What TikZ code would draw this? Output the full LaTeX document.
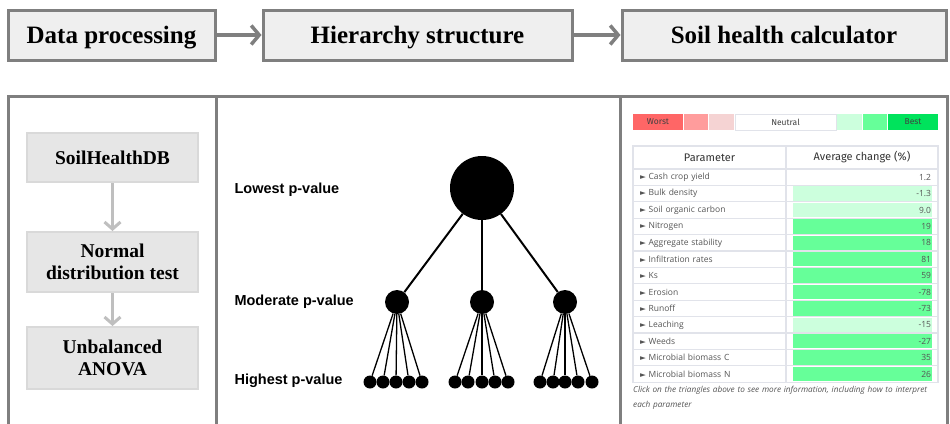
\documentclass[tikz,border=0pt]{standalone}
\usepackage{fontspec}
\setmainfont{Liberation Serif}
\setsansfont{Liberation Sans}
\newfontfamily\tblfont{Open Sans}
\newfontfamily\headfont{Fira Sans}
\newfontfamily\symfont{DejaVu Sans}
\usetikzlibrary{arrows.meta}

\definecolor{framegray}{HTML}{7F7F7F}
\definecolor{hdrfill}{HTML}{EFEFEF}
\definecolor{stepfill}{HTML}{E6E6E6}
\definecolor{stepline}{HTML}{D9D9D9}
\definecolor{steparrow}{HTML}{BFBFBF}
\definecolor{tblline}{HTML}{E1E3EA}
\definecolor{tbltext}{HTML}{555555}
\definecolor{worst}{HTML}{FF6666}
\definecolor{bad}{HTML}{FF9C9C}
\definecolor{slightbad}{HTML}{F5D3D3}
\definecolor{slightgood}{HTML}{CCFFDD}
\definecolor{good}{HTML}{66FF99}
\definecolor{best}{HTML}{00E35C}

\tikzset{
  hdrbox/.style={draw=framegray,fill=hdrfill,line width=3pt,minimum height=50pt,
    text depth=1pt,font=\fontsize{25}{28}\selectfont\bfseries},
  flowbox/.style={draw=stepline,fill=stepfill,line width=2pt,minimum width=171pt,
    align=center,font=\fontsize{19.5}{22}\selectfont\bfseries},
  levellabel/.style={anchor=west,font=\sffamily\bfseries\fontsize{14.5}{16}\selectfont},
  parcell/.style={draw=tblline,line width=1.2pt,minimum height=16.4pt,text width=139pt,
    inner xsep=7pt,inner ysep=0pt,align=left,text=tbltext,font=\tblfont\fontsize{8.5}{9}\selectfont},
  valcell/.style={draw=tblline,line width=1.2pt,minimum height=16.4pt,text width=138pt,
    inner xsep=7pt,inner ysep=0pt,align=right,text=tbltext,font=\tblfont\fontsize{8.5}{9}\selectfont},
  shade/.style={path picture={\fill[#1]
    ([xshift=7pt,yshift=1pt]path picture bounding box.south west) rectangle
    ([xshift=-6pt,yshift=-1pt]path picture bounding box.north east);}}
}

\newcommand{\tri}{{\symfont\fontsize{7.5}{8}\selectfont ►}\ }

\begin{document}
\begin{tikzpicture}[x=1pt,y=-1pt]

  \fill[white] (0,0) rectangle (950,423);
  \useasboundingbox (0,0) rectangle (950,423);

  \node[hdrbox,minimum width=207pt] (dataproc) at (111.5,35) {Data processing};
  \node[hdrbox,minimum width=309pt] (hierarchy) at (417.5,35) {Hierarchy structure};
  \node[hdrbox,minimum width=324pt] (calculator) at (784,35) {Soil health calculator};

  \begin{scope}[draw=framegray,line width=3.5pt,-{Straight Barb[length=8pt,width=19pt]}]
    \draw (dataproc) -- (hierarchy);
    \draw (hierarchy) -- (calculator);
  \end{scope}

  \draw[framegray,line width=3pt] (8,96) rectangle (947,440);
  \draw[framegray,line width=3pt] (216,96) -- (216,440);
  \draw[framegray,line width=3pt] (620,96) -- (620,440);

  \node[flowbox,minimum height=49pt] (shdb) at (112.5,157.5) {SoilHealthDB};
  \node[flowbox,minimum height=60pt] (normtest) at (112.5,262) {Normal\\distribution test};
  \node[flowbox,minimum height=62pt] (anova) at (112.5,358) {Unbalanced\\ANOVA};

  \begin{scope}[draw=steparrow,line width=3pt,-{Straight Barb[length=7pt,width=16pt]}]
    \draw (shdb) -- (normtest);
    \draw (normtest) -- (anova);
  \end{scope}

  \node[levellabel] (lowlab) at (231,190) {Lowest p-value};
  \node[levellabel] (modlab) at (231,302) {Moderate p-value};
  \node[levellabel] (highlab) at (231,381) {Highest p-value};

  \begin{scope}[every node/.style={circle,fill=black,inner sep=0pt}]
    \node[minimum size=64pt] (top) at (482,188) {};
    \node[minimum size=24pt] (m1) at (397,302) {};
    \node[minimum size=24pt] (m2) at (482,302) {};
    \node[minimum size=24pt] (m3) at (565,302) {};
    \node[minimum size=13pt] (l11) at (370,382) {};
    \node[minimum size=13pt] (l12) at (383,382) {};
    \node[minimum size=13pt] (l13) at (396,382) {};
    \node[minimum size=13pt] (l14) at (409,382) {};
    \node[minimum size=13pt] (l15) at (422,382) {};
    \node[minimum size=13pt] (l21) at (455,382) {};
    \node[minimum size=13pt] (l22) at (468,382) {};
    \node[minimum size=13pt] (l23) at (482,382) {};
    \node[minimum size=13pt] (l24) at (495,382) {};
    \node[minimum size=13pt] (l25) at (508,382) {};
    \node[minimum size=13pt] (l31) at (540,382) {};
    \node[minimum size=13pt] (l32) at (553,382) {};
    \node[minimum size=13pt] (l33) at (565,382) {};
    \node[minimum size=13pt] (l34) at (578,382) {};
    \node[minimum size=13pt] (l35) at (592,382) {};
  \end{scope}

  \begin{scope}[every edge/.style={draw,line width=2pt}]
    \path (top) edge (m1);
    \path (top) edge (m2);
    \path (top) edge (m3);
  \end{scope}

  \begin{scope}[every edge/.style={draw,line width=1.3pt}]
    \path (m1) edge (l11) (m1) edge (l12) (m1) edge (l13) (m1) edge (l14) (m1) edge (l15);
    \path (m2) edge (l21) (m2) edge (l22) (m2) edge (l23) (m2) edge (l24) (m2) edge (l25);
    \path (m3) edge (l31) (m3) edge (l32) (m3) edge (l33) (m3) edge (l34) (m3) edge (l35);
  \end{scope}

  \begin{scope}[every node/.style={minimum height=16pt,inner sep=0pt,
      font=\headfont\fontsize{8.5}{9}\selectfont,text=black!75}]
    \node[fill=worst,minimum width=50pt] (worstkey) at (658,122) {Worst};
    \node[fill=bad,minimum width=24pt] (badkey) at (696,122) {};
    \node[fill=slightbad,minimum width=25pt] (slbadkey) at (721.5,122) {};
    \node[draw=tblline,line width=1pt,fill=white,minimum width=101pt] (neutralkey) at (785.5,122) {Neutral};
    \node[fill=slightgood,minimum width=25pt] (slgoodkey) at (849.5,122) {};
    \node[fill=good,minimum width=24pt] (goodkey) at (875,122) {};
    \node[fill=best,minimum width=50pt] (bestkey) at (913,122) {Best};
  \end{scope}

  \begin{scope}[every node/.style={draw=tblline,line width=1.2pt,minimum height=23pt,
      font=\headfont\fontsize{11}{12}\selectfont,text=black!80}]
    \node[minimum width=153pt] (parhead) at (709.5,157.5) {Parameter};
    \node[minimum width=152pt] (avghead) at (862,157.5) {Average change (\%)};
  \end{scope}

  \node[parcell] (p1) at (709.5,177.2) {\tri Cash crop yield};
  \node[parcell] (p2) at (709.5,193.6) {\tri Bulk density};
  \node[parcell] (p3) at (709.5,210.0) {\tri Soil organic carbon};
  \node[parcell] (p4) at (709.5,226.4) {\tri Nitrogen};
  \node[parcell] (p5) at (709.5,242.8) {\tri Aggregate stability};
  \node[parcell] (p6) at (709.5,259.2) {\tri Infiltration rates};
  \node[parcell] (p7) at (709.5,275.6) {\tri Ks};
  \node[parcell] (p8) at (709.5,292.0) {\tri Erosion};
  \node[parcell] (p9) at (709.5,308.4) {\tri Runoff};
  \node[parcell] (p10) at (709.5,324.8) {\tri Leaching};
  \node[parcell] (p11) at (709.5,341.2) {\tri Weeds};
  \node[parcell] (p12) at (709.5,357.6) {\tri Microbial biomass C};
  \node[parcell] (p13) at (709.5,374.0) {\tri Microbial biomass N};

  \node[valcell] (v1) at (862,177.2) {1.2};
  \node[valcell,shade=slightgood] (v2) at (862,193.6) {-1.3};
  \node[valcell,shade=slightgood] (v3) at (862,210.0) {9.0};
  \node[valcell,shade=good] (v4) at (862,226.4) {19};
  \node[valcell,shade=good] (v5) at (862,242.8) {18};
  \node[valcell,shade=good] (v6) at (862,259.2) {81};
  \node[valcell,shade=good] (v7) at (862,275.6) {59};
  \node[valcell,shade=good] (v8) at (862,292.0) {-78};
  \node[valcell,shade=good] (v9) at (862,308.4) {-73};
  \node[valcell,shade=slightgood] (v10) at (862,324.8) {-15};
  \node[valcell,shade=good] (v11) at (862,341.2) {-27};
  \node[valcell,shade=good] (v12) at (862,357.6) {35};
  \node[valcell,shade=good] (v13) at (862,374.0) {26};

  \node[anchor=north west,inner sep=0pt,text width=305pt,align=left,text=tbltext,
    font=\tblfont\itshape\fontsize{8.2}{15}\selectfont] (note) at (633,386)
    {Click on the triangles above to see more information, including how to interpret each parameter};

\end{tikzpicture}
\end{document}
